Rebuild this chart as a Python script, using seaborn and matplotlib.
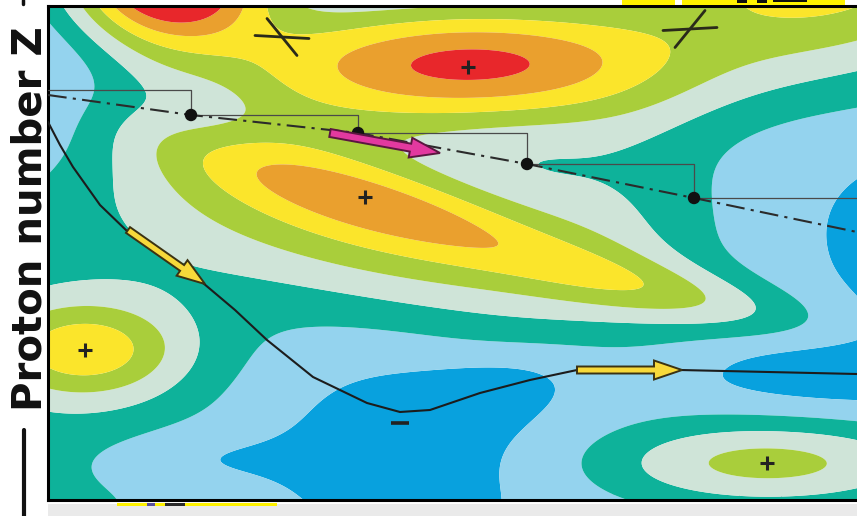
import numpy as np
import matplotlib
matplotlib.use("Agg")
import matplotlib.pyplot as plt
import seaborn as sns
from matplotlib.patches import FancyArrow, Rectangle
from matplotlib.lines import Line2D

# ---------------- data ----------------
# potential-energy landscape, described as a sum of smooth lobes
surface_base = 0.5
bump_x     = [168, 468, 820, 370, 375, 680,  85,  90, 767,   0, 210, 390, 500, 830, 915, 630, 850, 185, 190]
bump_y     = [-28,  64, -30, 201, 221, 295, 350, 350, 463,  95, 108, 445, 385, 370, 245, 190, 250, 458,  20]
bump_sx    = [ 64, 155, 130, 160, 200, 110,  68, 150, 120, 110,  45, 135,  70, 130,  40,  75, 120,  70,  90]
bump_sy    = [ 45,  44,  70,  25,  60,  22,  34, 150,  30,  60,  30,  85,  25,  30,  48,  70, 110,  22,  60]
bump_angle = [  0,   0,   0,  16,  16,  12,   0,   0,   0,   0,   0,   0, -15,   0,   0,   0,   0,   0,   0]
bump_amp   = [7.1, 5.7, 4.1, 1.9, 3.4, 1.7, 3.2, 1.15, 2.9, -2.0, -0.6, -1.1, -0.6, -1.1, -1.2, 1.0, -0.5, -0.7, 1.2]

level_bounds = [-10, 0, 1, 2, 3, 4, 5, 6, 30]
level_colors = ['#08A1DE', '#94D3EE', '#0EB29A', '#CFE4D8', '#A9CE3B', '#FBE52B', '#EAA02E', '#E8272B']

# fission path (solid) and stepwise path (dash-dot with points)
traj_x = [48, 60, 73, 100, 128, 165, 203, 235, 267, 313, 367, 400, 430, 480, 530, 577, 680, 857]
traj_y = [122, 145, 167, 205, 232, 258, 283, 310, 340, 377, 403, 412, 410, 393, 380, 370, 370, 374]
chain_x = [48, 191, 358, 527, 694, 857]
chain_y = [95, 115, 133, 164, 198, 232]
dot_x = [191, 358, 527, 694]
dot_y = [115, 133, 164, 198]
step_start_y = 90

max_x = [468, 365, 85, 767]
max_y = [67, 197, 350, 463]
min_x = [400]
min_y = [423]
saddle_x = [282, 690]
saddle_y = [37, 29]

# arrows: start and end
yellow_arrow_x0 = [128, 577]
yellow_arrow_y0 = [230, 370]
yellow_arrow_x1 = [205, 682]
yellow_arrow_y1 = [284, 370]
pink_arrow = (330, 133, 440, 153)

tick_x = list(range(67, 857, 42))

# ---------------- figure ----------------
sns.set_theme(style="white")
plt.rcParams['font.family'] = ['DejaVu Sans']

fig = plt.figure(figsize=(8.57, 5.16), dpi=100)
ax = fig.add_axes([48 / 857, 16 / 516, 809 / 857, 494 / 516])

gx = np.linspace(40, 870, 560)
gy = np.linspace(0, 510, 360)
GX, GY = np.meshgrid(gx, gy)
F = np.full_like(GX, surface_base)
for cx, cy, sx, sy, ang, amp in zip(bump_x, bump_y, bump_sx, bump_sy, bump_angle, bump_amp):
    a = np.deg2rad(ang)
    dx, dy = GX - cx, GY - cy
    u = dx * np.cos(a) + dy * np.sin(a)
    v = -dx * np.sin(a) + dy * np.cos(a)
    F += amp * np.exp(-0.5 * ((u / sx) ** 2 + (v / sy) ** 2))
F = np.clip(F, -9.9, 29.9)

ax.contourf(GX, GY, F, levels=level_bounds, colors=level_colors, antialiased=True, zorder=1)

# step path
sx_pts, sy_pts = [chain_x[0]], [step_start_y]
prev_y = step_start_y
for x, y in zip(dot_x, dot_y):
    sx_pts += [x, x]
    sy_pts += [prev_y, y]
    prev_y = y
sx_pts.append(chain_x[-1]); sy_pts.append(prev_y)
sns.lineplot(x=sx_pts, y=sy_pts, ax=ax, sort=False, estimator=None, color='#4a4a4a', lw=0.9, zorder=3)

sns.lineplot(x=chain_x, y=chain_y, ax=ax, sort=False, estimator=None, color='#2b2b2b', lw=1.5,
             linestyle=(0, (9, 3, 1.5, 3)), zorder=3)
sns.lineplot(x=traj_x, y=traj_y, ax=ax, sort=False, estimator=None, color='#1c1c1c', lw=1.5, zorder=3)
sns.scatterplot(x=dot_x, y=dot_y, ax=ax, s=80, color='#111111', edgecolor='none', zorder=4)

for x0, y0, x1, y1 in zip(yellow_arrow_x0, yellow_arrow_y0, yellow_arrow_x1, yellow_arrow_y1):
    L = np.hypot(x1 - x0, y1 - y0)
    ax.add_patch(FancyArrow(x0, y0, x1 - x0, y1 - y0, width=7, head_width=19, head_length=min(28, L * 0.3),
                            length_includes_head=True, fc='#F7D93A', ec='#3b3212', lw=1.4, zorder=6))
px0, py0, px1, py1 = pink_arrow
ax.add_patch(FancyArrow(px0, py0, px1 - px0, py1 - py0, width=8, head_width=20, head_length=30,
                        length_includes_head=True, fc='#E2399F', ec='#5a1740', lw=1.4, zorder=6))

sns.scatterplot(x=max_x, y=max_y, ax=ax, marker='+', s=110, linewidth=2.2, color='#222222', zorder=5)
sns.scatterplot(x=min_x, y=min_y, ax=ax, marker='_', s=170, linewidth=2.6, color='#222222', zorder=5)

# saddle crosses
stroke_flat = (27, 1.5)
stroke_steep = (15, 18.5)
for (x, y), sgn in zip(zip(saddle_x, saddle_y), [1, -1]):
    ax.plot([x - stroke_flat[0], x + stroke_flat[0]], [y - sgn * stroke_flat[1], y + sgn * stroke_flat[1]],
            color='#2a2a1a', lw=2.0, zorder=5, solid_capstyle='round')
    ax.plot([x - sgn * stroke_steep[0], x + sgn * stroke_steep[0]], [y - stroke_steep[1], y + stroke_steep[1]],
            color='#2a2a1a', lw=2.0, zorder=5, solid_capstyle='round')

ax.set_xlim(48, 857)
ax.set_ylim(500, 6)
ax.set_xticks(tick_x)
ax.set_yticks([])
ax.tick_params(axis='x', direction='in', length=4, width=0.8, color='#9aa6a6', labelbottom=False, bottom=True)
ax.set_xlabel('')
ax.set_ylabel('')
for side in ['left', 'top', 'bottom']:
    ax.spines[side].set_visible(True)
    ax.spines[side].set_color('black')
    ax.spines[side].set_linewidth(2.2)
ax.spines['right'].set_visible(False)

# axis title on the left
fig.text(42 / 857, 1 - 219 / 516, 'Proton number Z', rotation=90, rotation_mode='anchor',
         ha='center', va='baseline', fontsize=29, fontweight='bold', color='#111111')
fig.add_artist(Line2D([24 / 857, 24 / 857], [0, 1 - 430 / 516], transform=fig.transFigure,
                      color='#111111', lw=3))
fig.add_artist(Line2D([23 / 857, 23 / 857], [1 - 4 / 516, 1], transform=fig.transFigure,
                      color='#111111', lw=2.5))

# page remnants around the crop
fig.add_artist(Rectangle((48 / 857, 0), 809 / 857, 12 / 516, transform=fig.transFigure,
                         color='#EAEAEA', lw=0, zorder=0))
for x0, x1, c in [(117, 147, '#FFF200'), (147, 155, '#5a4f9a'), (155, 165, '#FFF200'),
                  (165, 185, '#2a2a2a'), (185, 277, '#FFF200')]:
    fig.add_artist(Rectangle((x0 / 857, 10 / 516), (x1 - x0) / 857, 3 / 516, transform=fig.transFigure,
                             color=c, lw=0))
for x0, x1, c, h in [(622, 675, '#FFF200', 5), (682, 845, '#FFF200', 5), (737, 747, '#111111', 3),
                     (757, 767, '#111111', 3), (773, 807, '#111111', 2)]:
    fig.add_artist(Rectangle((x0 / 857, 1 - h / 516), (x1 - x0) / 857, h / 516, transform=fig.transFigure,
                             color=c, lw=0))

fig.savefig('out.png', dpi=100)
